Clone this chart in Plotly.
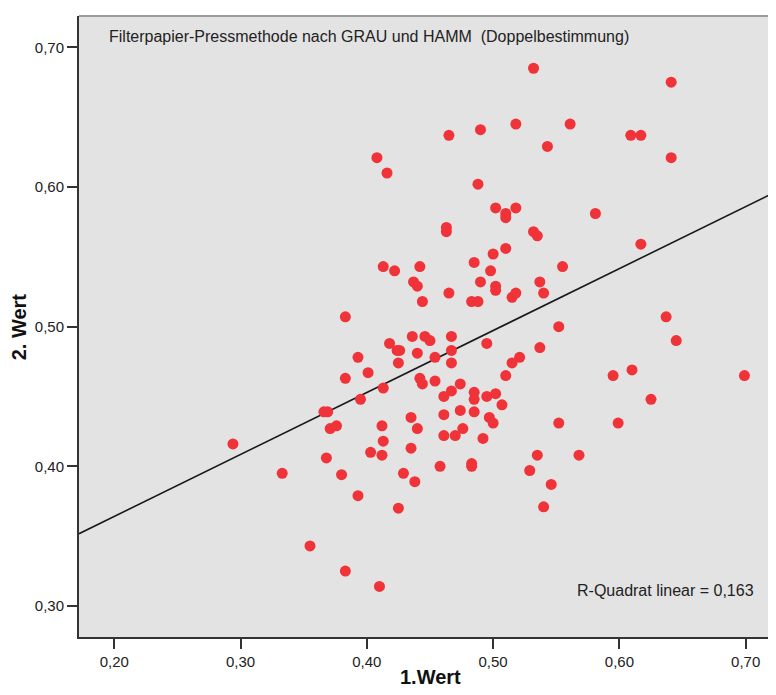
import plotly.graph_objects as go

# 1.Wert (x) and 2. Wert (y)
wert1 = [0.532, 0.641, 0.465, 0.490, 0.518, 0.561, 0.543, 0.609, 0.617, 0.641,
         0.408, 0.416, 0.488, 0.502, 0.510, 0.510, 0.518, 0.581, 0.463, 0.463,
         0.532, 0.535, 0.617, 0.510, 0.500, 0.485, 0.413, 0.422, 0.442, 0.498,
         0.555, 0.437, 0.440, 0.490, 0.502, 0.502, 0.537, 0.465, 0.515, 0.518,
         0.540, 0.444, 0.483, 0.488, 0.383, 0.637, 0.552, 0.436, 0.446, 0.450,
         0.467, 0.645, 0.418, 0.424, 0.426, 0.495, 0.537, 0.440, 0.393, 0.454,
         0.467, 0.521, 0.467, 0.425, 0.515, 0.401, 0.510, 0.595, 0.610, 0.699,
         0.383, 0.442, 0.444, 0.454, 0.474, 0.413, 0.467, 0.461, 0.485, 0.485,
         0.495, 0.502, 0.395, 0.625, 0.507, 0.366, 0.369, 0.474, 0.485, 0.435,
         0.461, 0.497, 0.500, 0.371, 0.376, 0.412, 0.440, 0.476, 0.552, 0.599,
         0.294, 0.413, 0.461, 0.470, 0.492, 0.435, 0.403, 0.412, 0.535, 0.568,
         0.368, 0.483, 0.483, 0.458, 0.333, 0.429, 0.529, 0.380, 0.438, 0.546,
         0.393, 0.425, 0.540, 0.355, 0.383, 0.410]
wert2 = [0.685, 0.675, 0.637, 0.641, 0.645, 0.645, 0.629, 0.637, 0.637, 0.621,
         0.621, 0.610, 0.602, 0.585, 0.581, 0.578, 0.585, 0.581, 0.571, 0.568,
         0.568, 0.565, 0.559, 0.556, 0.552, 0.546, 0.543, 0.540, 0.543, 0.540,
         0.543, 0.532, 0.529, 0.532, 0.529, 0.526, 0.532, 0.524, 0.521, 0.524,
         0.524, 0.518, 0.518, 0.518, 0.507, 0.507, 0.500, 0.493, 0.493, 0.490,
         0.493, 0.490, 0.488, 0.483, 0.483, 0.488, 0.485, 0.481, 0.478, 0.478,
         0.483, 0.478, 0.474, 0.474, 0.474, 0.467, 0.465, 0.465, 0.469, 0.465,
         0.463, 0.463, 0.459, 0.461, 0.459, 0.456, 0.454, 0.450, 0.453, 0.448,
         0.450, 0.452, 0.448, 0.448, 0.444, 0.439, 0.439, 0.440, 0.439, 0.435,
         0.437, 0.435, 0.431, 0.427, 0.429, 0.429, 0.427, 0.427, 0.431, 0.431,
         0.416, 0.418, 0.422, 0.422, 0.420, 0.413, 0.410, 0.408, 0.408, 0.408,
         0.406, 0.402, 0.400, 0.400, 0.395, 0.395, 0.397, 0.394, 0.389, 0.387,
         0.379, 0.370, 0.371, 0.343, 0.325, 0.314]

# linear fit
fit_intercept = 0.2754
fit_slope = 0.4436
r_squared_text = "R-Quadrat linear = 0,163"

x_range = [0.1721, 0.724]
y_range = [0.2778, 0.7224]
x_ticks = [0.20, 0.30, 0.40, 0.50, 0.60, 0.70]
x_ticktext = ["0,20", "0,30", "0,40", "0,50", "0,60", "0,70"]
y_ticks = [0.30, 0.40, 0.50, 0.60, 0.70]
y_ticktext = ["0,30", "0,40", "0,50", "0,60", "0,70"]

title_text = "Filterpapier-Pressmethode nach GRAU und HAMM  (Doppelbestimmung)"

FONT = "Liberation Sans, Arial, sans-serif"

fig = go.Figure()

fit_x = x_range
fit_y = [fit_intercept + fit_slope * v for v in fit_x]
fig.add_trace(go.Scatter(x=fit_x, y=fit_y, mode="lines",
                         line=dict(color="#1a1a1a", width=1.6),
                         hoverinfo="skip", showlegend=False, cliponaxis=True))

fig.add_trace(go.Scatter(x=wert1, y=wert2, mode="markers",
                         marker=dict(color="#ef3338", size=11, line=dict(width=0)),
                         showlegend=False))

axis_common = dict(showgrid=False, zeroline=False, showline=True,
                   linecolor="#333333", linewidth=2, ticks="outside",
                   ticklen=10, tickwidth=2, tickcolor="#333333",
                   tickfont=dict(family=FONT, size=15, color="#222222"))

fig.update_xaxes(range=x_range, tickvals=x_ticks, ticktext=x_ticktext, **axis_common)
fig.update_yaxes(range=y_range, tickvals=y_ticks, ticktext=y_ticktext, **axis_common)

fig.add_shape(type="line", xref="paper", yref="paper", x0=0, x1=1, y0=1, y1=1,
              line=dict(color="#9a9a9a", width=2))

fig.add_annotation(text=title_text, xref="paper", yref="paper", x=0.0406, y=0.9662,
                   xanchor="left", yanchor="middle", showarrow=False,
                   font=dict(family=FONT, size=16, color="#222222"))
fig.add_annotation(text=r_squared_text, xref="paper", yref="paper", x=0.7117, y=0.0752,
                   xanchor="left", yanchor="middle", showarrow=False,
                   font=dict(family=FONT, size=16, color="#222222"))
fig.add_annotation(text="<b>1.Wert</b>", xref="paper", yref="paper", x=0.505, y=-0.0644,
                   xanchor="center", yanchor="middle", showarrow=False,
                   font=dict(family=FONT, size=20, color="#111111"))
fig.add_annotation(text="<b>2. Wert</b>", xref="paper", yref="paper", x=-0.0861, y=0.5003,
                   xanchor="center", yanchor="middle", showarrow=False, textangle=-90,
                   font=dict(family=FONT, size=20, color="#111111"))

# page body has an 8px margin; size the figure so the plot lands where it should
# and the page does not overflow the window
fig.update_layout(width=768, height=679,
                  margin=dict(l=71, r=0, t=8, b=50),
                  paper_bgcolor="white", plot_bgcolor="#e3e3e3",
                  font=dict(family=FONT))

fig.write_html("out.html")
